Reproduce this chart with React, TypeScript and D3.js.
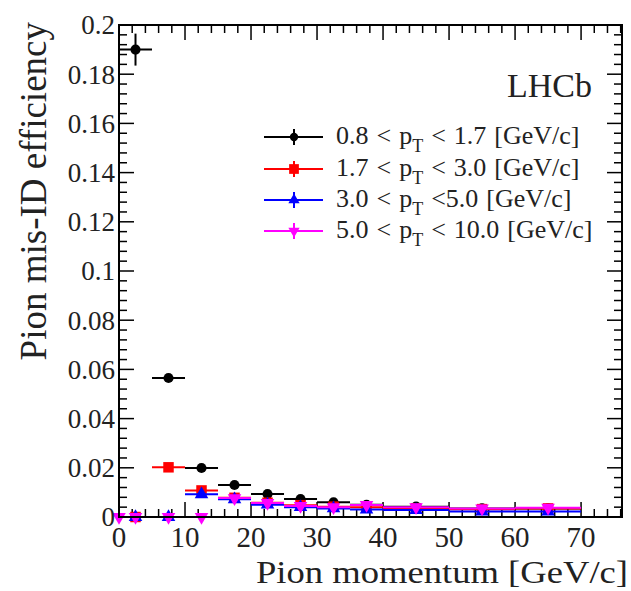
import React from "react";
import * as d3 from "d3";

// ---- data ----
const binLow = [0, 5, 10, 15, 20, 25, 30, 35, 40, 50, 60];
const binHigh = [5, 10, 15, 20, 25, 30, 35, 40, 50, 60, 70];

const blackVals = [0.19, 0.0565, 0.0199, 0.013, 0.0093, 0.0073, 0.006, 0.005, 0.0042, 0.0035, 0.0035];
const blackErrs = [0.0065, 0.0012, 0.0006, 0.0005, 0.0004, 0.0003, 0.0003, 0.0003, 0.0003, 0.0003, 0.0003];
const redVals = [0, 0.0202, 0.0108, 0.0078, 0.0058, 0.0048, 0.0042, 0.004, 0.0035, 0.0032, 0.0035];
const redErrs = [0, 0.0008, 0.0005, 0.0004, 0.0003, 0.0003, 0.0003, 0.0003, 0.0003, 0.0003, 0.0003];
const blueVals = [0, 0, 0.0092, 0.0072, 0.005, 0.004, 0.0035, 0.003, 0.0028, 0.0022, 0.0022];
const blueErrs = [0, 0, 0.0005, 0.0004, 0.0003, 0.0003, 0.0003, 0.0003, 0.0003, 0.0003, 0.0003];
const pinkLow = [0, 0, 5, 10, 15, 20, 25, 30, 35, 40, 50, 60];
const pinkHigh = [0, 5, 10, 15, 20, 25, 30, 35, 40, 50, 60, 70];
const pinkVals = [0, 0, 0, 0, 0.0077, 0.0057, 0.0045, 0.004, 0.0049, 0.004, 0.0035, 0.0038];
const pinkErrs = [0, 0, 0, 0, 0.0005, 0.0004, 0.0003, 0.0003, 0.0003, 0.0003, 0.0003, 0.0003];

const legendPre = ["0.8 < p", "1.7 < p", "3.0 < p", "5.0 < p"];
const legendPost = [" < 1.7 [GeV/c]", " < 3.0 [GeV/c]", " <5.0 [GeV/c]", " < 10.0 [GeV/c]"];

const yTickVals = [0, 0.02, 0.04, 0.06, 0.08, 0.1, 0.12, 0.14, 0.16, 0.18, 0.2];
const yTickLabels = ["0", "0.02", "0.04", "0.06", "0.08", "0.1", "0.12", "0.14", "0.16", "0.18", "0.2"];
const xTickVals = [0, 10, 20, 30, 40, 50, 60, 70];
const xTickLabels = ["0", "10", "20", "30", "40", "50", "60", "70"];

const W = 631, H = 591;
const L = 119, R = 622, T = 25, B = 517;
const FONT = "'Liberation Serif', 'DejaVu Serif', serif";

const x = d3.scaleLinear().domain([0, 76.2]).range([L, R]);
const y = d3.scaleLinear().domain([0, 0.2]).range([B, T]);

type Series = {
  low: number[]; high: number[]; vals: number[]; errs: number[];
  color: string; shape: d3.SymbolType; size: number; legSize: number; rot: number;
};

const series: Series[] = [
  { low: binLow, high: binHigh, vals: blackVals, errs: blackErrs, color: "#000000", shape: d3.symbolCircle, size: 80, legSize: 55, rot: 0 },
  { low: binLow, high: binHigh, vals: redVals, errs: redErrs, color: "#ff0000", shape: d3.symbolSquare, size: 110, legSize: 95, rot: 0 },
  { low: binLow, high: binHigh, vals: blueVals, errs: blueErrs, color: "#0000ff", shape: d3.symbolTriangle, size: 80, legSize: 55, rot: 0 },
  { low: pinkLow, high: pinkHigh, vals: pinkVals, errs: pinkErrs, color: "#ff00ff", shape: d3.symbolTriangle, size: 80, legSize: 55, rot: 180 },
];

export default function App() {
  const yMinor = d3.range(0, 0.2001, 0.004);
  const xMinor = d3.range(0, 76.2, 2);
  const legendY = [137, 169, 200, 231];

  return (
    <div style={{ position: "absolute", left: 0, top: 0 }}>
      <svg width={W} height={H} style={{ display: "block", background: "#fff" }} fontFamily={FONT}>
        <rect x={0} y={0} width={W} height={H} fill="#fff" />
        {/* ticks */}
        {yMinor.map((v, i) => {
          const major = i % 5 === 0;
          const len = major ? 15 : 8;
          return (
            <g key={"yt" + i} stroke="#000" strokeWidth={1.5}>
              <line x1={L} x2={L + len} y1={y(v)} y2={y(v)} />
              <line x1={R} x2={R - len} y1={y(v)} y2={y(v)} />
            </g>
          );
        })}
        {xMinor.map((v, i) => {
          const major = i % 5 === 0;
          const len = major ? 15 : 8;
          return (
            <g key={"xt" + i} stroke="#000" strokeWidth={1.5}>
              <line x1={x(v)} x2={x(v)} y1={B} y2={B - len} />
              <line x1={x(v)} x2={x(v)} y1={T} y2={T + len} />
            </g>
          );
        })}
        {/* data */}
        {series.map((s, si) => (
          <g key={"s" + si}>
            {s.vals.map((v, i) => (
              <g key={i} stroke={s.color} strokeWidth={2}>
                <line x1={x(s.low[i])} x2={x(s.high[i])} y1={y(v)} y2={y(v)} />
                <line x1={x((s.low[i] + s.high[i]) / 2)} x2={x((s.low[i] + s.high[i]) / 2)} y1={y(v - s.errs[i])} y2={y(v + s.errs[i])} />
              </g>
            ))}
            {s.vals.map((v, i) => (
              <path key={"m" + i}
                d={d3.symbol().type(s.shape).size(s.size)() || ""}
                transform={`translate(${x((s.low[i] + s.high[i]) / 2)},${y(v)}) rotate(${s.rot})`}
                fill={s.color} />
            ))}
          </g>
        ))}
        {/* frame */}
        <rect x={L} y={T} width={R - L} height={B - T} fill="none" stroke="#000" strokeWidth={2} />
        {/* tick labels */}
        {yTickVals.map((v, i) => (
          <text key={"yl" + i} x={115} y={y(v)} dy="0.35em" textAnchor="end" fontSize={27} fill="#222">{yTickLabels[i]}</text>
        ))}
        {xTickVals.map((v, i) => (
          <text key={"xl" + i} x={x(v)} y={547} textAnchor="middle" fontSize={29} fill="#222">{xTickLabels[i]}</text>
        ))}
        {/* axis titles */}
        <text x={628} y={583} textAnchor="end" fontSize={32} textLength={372} lengthAdjust="spacingAndGlyphs" fill="#222">Pion momentum [GeV/c]</text>
        <text transform={`translate(46,22) rotate(-90)`} textAnchor="end" fontSize={37} fill="#222">Pion mis-ID efficiency</text>
        {/* LHCb */}
        <text x={592} y={97} textAnchor="end" fontSize={34} fill="#222">LHCb</text>
        {/* legend */}
        {series.map((s, i) => (
          <g key={"lg" + i}>
            <line x1={264} x2={323} y1={legendY[i]} y2={legendY[i]} stroke={s.color} strokeWidth={2} />
            <line x1={294} x2={294} y1={legendY[i] - 8} y2={legendY[i] + 8} stroke={s.color} strokeWidth={2} />
            <path d={d3.symbol().type(s.shape).size(s.legSize)() || ""}
              transform={`translate(294,${legendY[i]}) rotate(${s.rot})`} fill={s.color} />
            <text x={336} y={legendY[i] + 7} fontSize={26} wordSpacing={1.5} fill="#222">
              {legendPre[i]}
              <tspan dy={8} fontSize={18}>T</tspan>
              <tspan dy={-8}>{legendPost[i]}</tspan>
            </text>
          </g>
        ))}
      </svg>
    </div>
  );
}
